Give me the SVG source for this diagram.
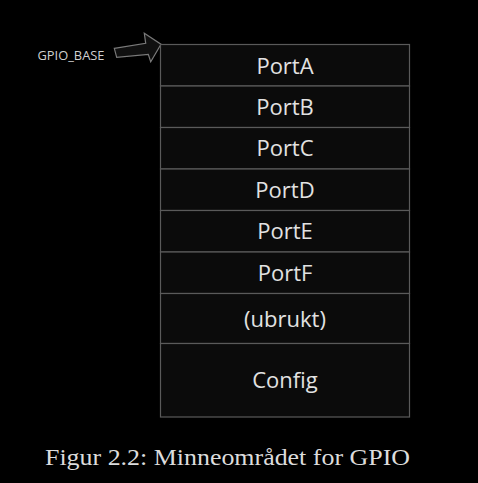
<svg xmlns="http://www.w3.org/2000/svg" width="478" height="483" viewBox="0 0 478 483">
<style>
.cell{fill:#0b0b0b;stroke:#5a5a5a;stroke-width:1.2}
.lbl{font-family:"Open Sans","Noto Sans",sans-serif;font-size:22px;fill:#e2e2e2;text-anchor:middle}
</style>
<rect width="478" height="483" fill="#000"/>
<g id="gpio_base">
<text x="37.5" y="59.5" font-family="'Open Sans','Noto Sans',sans-serif" font-size="12.5" fill="#d0d0d0" textLength="67" lengthAdjust="spacingAndGlyphs">GPIO_BASE</text>
</g>
<g id="connectors">
<path d="M114.3,48.3 L145.7,43.3 L144.3,33.3 L161,44.3 L150.7,61.7 L148.3,54.3 L116.7,57.3 Z" fill="#101010" stroke="#7a7a7a" stroke-width="1.2" stroke-linejoin="miter"/>
</g>
<g id="portA"><rect class="cell" x="160.5" y="44.5" width="249" height="41.5"/><text class="lbl" x="285" y="73.5">PortA</text></g>
<g id="portB"><rect class="cell" x="160.5" y="86" width="249" height="41.5"/><text class="lbl" x="285" y="114.5">PortB</text></g>
<g id="portC"><rect class="cell" x="160.5" y="127.5" width="249" height="41.5"/><text class="lbl" x="285" y="156">PortC</text></g>
<g id="portD"><rect class="cell" x="160.5" y="169" width="249" height="41.5"/><text class="lbl" x="285" y="197.5">PortD</text></g>
<g id="portE"><rect class="cell" x="160.5" y="210.5" width="249" height="41.5"/><text class="lbl" x="285" y="239">PortE</text></g>
<g id="portF"><rect class="cell" x="160.5" y="252" width="249" height="41.5"/><text class="lbl" x="285" y="280.5">PortF</text></g>
<g id="ubrukt"><rect class="cell" x="160.5" y="293.5" width="249" height="50"/><text class="lbl" x="285" y="326.5">(ubrukt)</text></g>
<g id="config"><rect class="cell" x="160.5" y="343.5" width="249" height="73.5"/><text class="lbl" x="285" y="388">Config</text></g>
<text x="45" y="465" font-family="'Liberation Serif',serif" font-size="23" fill="#dcdcdc" textLength="365" lengthAdjust="spacingAndGlyphs">Figur 2.2: Minneområdet for GPIO</text>
</svg>
